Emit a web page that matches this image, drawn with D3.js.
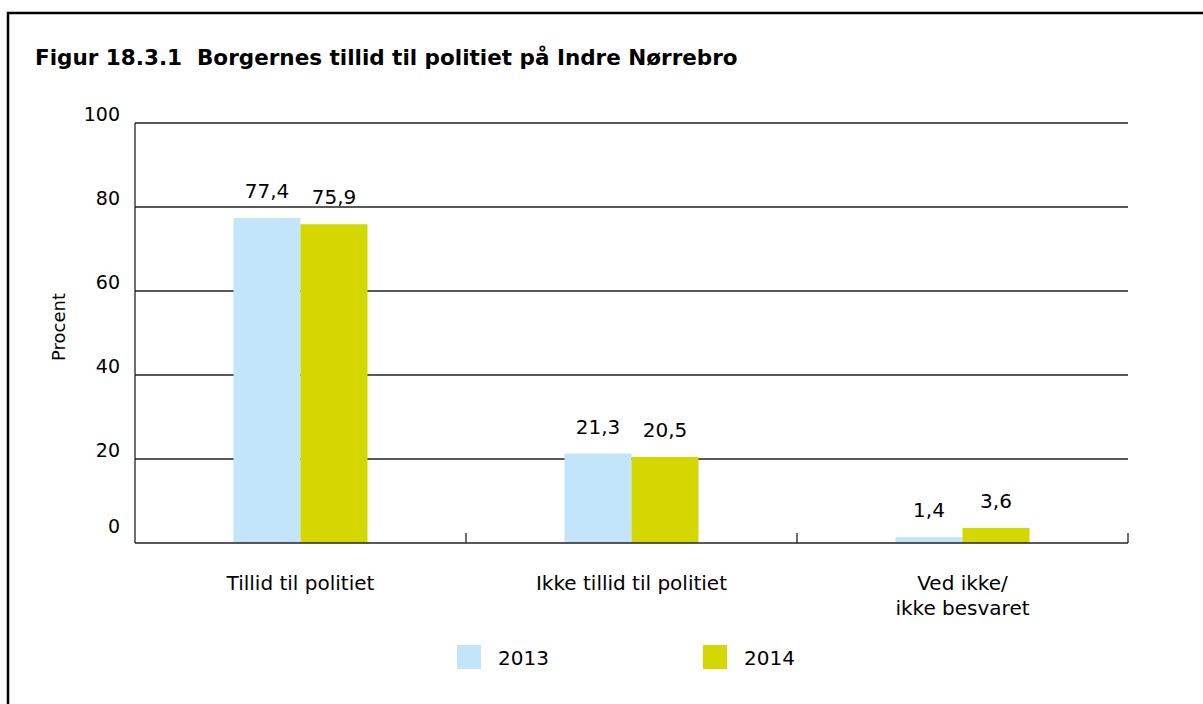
<!DOCTYPE html>
<html><head><meta charset="utf-8">
<script src="https://cdn.jsdelivr.net/npm/d3@7/dist/d3.min.js"></script>
<style>
html,body{margin:0;padding:0;background:#fff;}
svg text{font-family:"DejaVu Sans",sans-serif;fill:#000;}
</style></head>
<body><svg id="c" width="1203" height="704"></svg>
<script>
const categories = [["Tillid til politiet"], ["Ikke tillid til politiet"], ["Ved ikke/", "ikke besvaret"]];
const seriesNames = ["2013", "2014"];
const values2013 = [77.4, 21.3, 1.4];
const values2014 = [75.9, 20.5, 3.6];
const valueLabels2013 = ["77,4", "21,3", "1,4"];
const valueLabels2014 = ["75,9", "20,5", "3,6"];
const yTicks = [0, 20, 40, 60, 80, 100];
const colors = ["#C2E5F9", "#D4D800"];

(function(){
const svg = d3.select("#c");
svg.append("path").attr("d","M8,704 V13 H1203").attr("fill","none").attr("stroke","#000").attr("stroke-width",2.5);

svg.append("text").attr("x",35).attr("y",65).attr("font-size",21.5).attr("font-weight","bold")
  .attr("xml:space","preserve").text("Figur 18.3.1  Borgernes tillid til politiet på Indre Nørrebro");

const pl=135, pr=1128, pt=123, pb=543;
const x = d3.scaleBand().domain(d3.range(categories.length)).range([pl,pr]);
const y = d3.scaleLinear().domain([0,100]).range([pb,pt]);
const barW = 67;

svg.append("g").selectAll("line").data(yTicks.filter(d=>d>0)).join("line")
  .attr("x1",pl).attr("x2",pr).attr("y1",d=>y(d)).attr("y2",d=>y(d))
  .attr("stroke","#222").attr("stroke-width",1.3);

svg.append("g").selectAll("text").data(yTicks).join("text")
  .attr("x",120).attr("y",d=>d===0 ? y(d)-10 : y(d)-2).attr("text-anchor","end").attr("font-size",19)
  .text(d=>d);

svg.append("text").attr("transform",`translate(65,327) rotate(-90)`).attr("text-anchor","middle")
  .attr("font-size",18).text("Procent");

const data = [values2013, values2014];
const labs = [valueLabels2013, valueLabels2014];
data.forEach((vals,si)=>{
  const bx = i => x(i)+x.bandwidth()/2 - barW + si*barW;
  svg.append("g").selectAll("rect").data(vals).join("rect")
    .attr("x",(d,i)=>bx(i)).attr("width",barW)
    .attr("y",d=>y(d)).attr("height",d=>pb-y(d)).attr("fill",colors[si]);
  svg.append("g").selectAll("text").data(vals).join("text")
    .attr("x",(d,i)=>bx(i)+barW/2).attr("y",d=>y(d)-20).attr("text-anchor","middle")
    .attr("font-size",20).text((d,i)=>labs[si][i]);
});

svg.append("line").attr("x1",pl).attr("x2",pl).attr("y1",pt).attr("y2",pb).attr("stroke","#222").attr("stroke-width",1.3);
svg.append("line").attr("x1",pl).attr("x2",pr).attr("y1",pb).attr("y2",pb).attr("stroke","#222").attr("stroke-width",1.6);
svg.append("g").selectAll("line").data(d3.range(1,categories.length+1)).join("line")
  .attr("x1",i=>x(i-1)+x.bandwidth()).attr("x2",i=>x(i-1)+x.bandwidth())
  .attr("y1",pb).attr("y2",pb-10).attr("stroke","#222").attr("stroke-width",1.3);

categories.forEach((lines,i)=>{
  const t = svg.append("text").attr("text-anchor","middle").attr("font-size",20);
  lines.forEach((ln,j)=>{
    t.append("tspan").attr("x",x(i)+x.bandwidth()/2).attr("y",590+j*25).text(ln);
  });
});

const legX = [457, 703];
seriesNames.forEach((s,i)=>{
  svg.append("rect").attr("x",legX[i]).attr("y",645).attr("width",24).attr("height",24).attr("fill",colors[i]);
  svg.append("text").attr("x",legX[i]+41).attr("y",665).attr("font-size",20).text(s);
});
})();
</script></body></html>
